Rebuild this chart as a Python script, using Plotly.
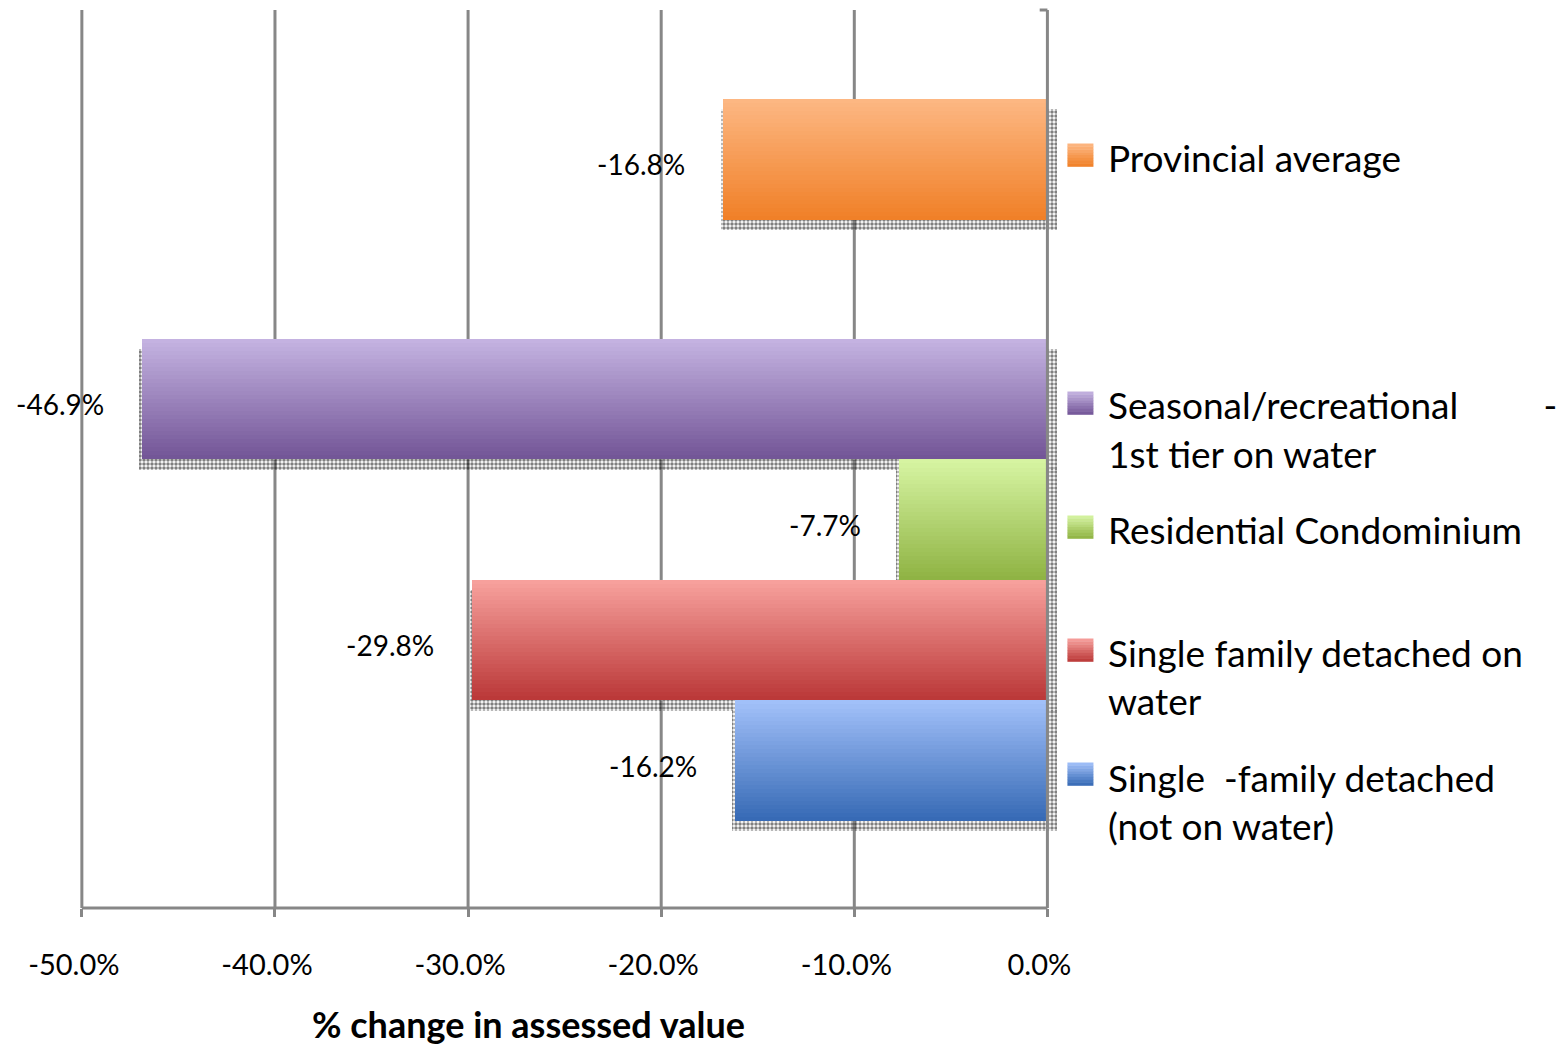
import plotly.graph_objects as go

NB = "\u00a0"

# ---------------- data ----------------
categories = [
    "Provincial average",
    "Seasonal/recreational - 1st tier on water",
    "Residential Condominium",
    "Single family detached on water",
    "Single -family detached (not on water)",
]
values = [-16.8, -46.9, -7.7, -29.8, -16.2]
value_labels = ["-16.8%", "-46.9%", "-7.7%", "-29.8%", "-16.2%"]
legend_lines = [
    ["Provincial average"],
    ["Seasonal/recreational" + NB * 9 + "-", "1st tier on water"],
    ["Residential Condominium"],
    ["Single family detached on", "water"],
    ["Single" + NB * 2 + "-family detached", "(not on water)"],
]
tick_values = [-50, -40, -30, -20, -10, 0]
tick_labels = ["-50.0%", "-40.0%", "-30.0%", "-20.0%", "-10.0%", "0.0%"]
axis_title = "% change in assessed value"

# ---------------- styles ----------------
top_colors = ["#FDB884", "#C5B4E2", "#D7F5A3", "#F8A29E", "#A3C1FA"]
bottom_colors = ["#F07F26", "#725496", "#8EB242", "#BA3737", "#3569B4"]
FONT = "Lato"
GRID = "#878787"

# ---------------- layout geometry ----------------
W, H = 1558, 1048
X_MIN, X_MAX = -50.2, 0.6
PX_PER = 19.3
M_L = 82 - 0.2 * PX_PER
PLOT_W = (X_MAX - X_MIN) * PX_PER
M_R = W - M_L - PLOT_W
M_T, PLOT_BOTTOM = 10, 908
M_B = H - PLOT_BOTTOM
PLOT_H = PLOT_BOTTOM - M_T
Y_RANGE = PLOT_H / 120.5

slot_centers = [1.24, 3.23, 4.23, 5.23, 6.23]
N_STRIPS = 30


def hex2rgb(h):
    h = h.lstrip("#")
    return tuple(int(h[i:i + 2], 16) for i in (0, 2, 4))


def mix(c1, c2, t):
    a, b = hex2rgb(c1), hex2rgb(c2)
    return "rgb(%d,%d,%d)" % tuple(round(a[i] + (b[i] - a[i]) * t) for i in range(3))


def px_x(px):
    return (px - M_L) / PLOT_W


def px_y(py):
    return (PLOT_BOTTOM - py) / PLOT_H


fig = go.Figure()

# shadows (dotted, offset down/right)
for i, v in enumerate(values):
    c = slot_centers[i]
    top = c - 0.5 + 0.08
    bot = c + 0.5 + 0.085
    fig.add_trace(go.Bar(
        orientation="h",
        y=[(top + bot) / 2], x=[0.5 - (v - 0.12)], base=[v - 0.12],
        width=[bot - top],
        marker=dict(color="rgba(0,0,0,0)", line=dict(width=0),
                    pattern=dict(shape=".", fgcolor="black", bgcolor="rgba(0,0,0,0)",
                                 size=4, solidity=0.6, fillmode="overlay")),
        showlegend=False, hoverinfo="skip",
    ))

# gradient bars built from overlapping strips
for i, v in enumerate(values):
    c = slot_centers[i]
    top, bot = c - 0.5, c + 0.5
    ys, ws, cols = [], [], []
    for k in range(N_STRIPS):
        y0 = top + k / N_STRIPS
        y1 = min(top + (k + 1.6) / N_STRIPS, bot)
        ys.append((y0 + y1) / 2)
        ws.append(y1 - y0)
        cols.append(mix(top_colors[i], bottom_colors[i], (k + 0.5) / N_STRIPS))
    fig.add_trace(go.Bar(
        orientation="h", y=ys, x=[v] * N_STRIPS, width=ws,
        marker=dict(color=cols, line=dict(width=0)),
        name=categories[i], showlegend=False,
    ))

annotations = []
# value labels
for i, v in enumerate(values):
    annotations.append(dict(
        x=v, y=slot_centers[i], xref="x", yref="y", text=value_labels[i],
        showarrow=False, xanchor="right", yanchor="middle", xshift=-36, yshift=-5,
        font=dict(family=FONT, size=28, color="black"),
    ))

shapes = []
# vertical gridlines: hidden where a bar passes in front of them
for tv in tick_values:
    if tv == 0:
        shapes.append(dict(type="line", xref="x", yref="paper", x0=0, x1=0, y0=0, y1=1,
                           layer="above", line=dict(color=GRID, width=3)))
        continue
    covered = sorted((slot_centers[i] - 0.5, slot_centers[i] + 0.5)
                     for i, v in enumerate(values) if v < tv)
    segs, cur = [], 0.0
    for a, b in covered:
        if a > cur:
            segs.append((cur, a))
        cur = max(cur, b)
    if cur < Y_RANGE:
        segs.append((cur, Y_RANGE))
    for a, b in segs:
        shapes.append(dict(type="line", xref="x", yref="y", x0=tv, x1=tv, y0=a, y1=b,
                           layer="below", line=dict(color=GRID, width=3)))

# custom legend
key_centers = [155, 403, 527, 650, 774]
text_centers = [158, 405, 529, 652, 777]
LINE_GAP = 48
for i in range(len(values)):
    y0 = key_centers[i] - 11.5
    n = 8
    for k in range(n):
        t = (k + 0.5) / n
        shapes.append(dict(
            type="rect", xref="paper", yref="paper",
            x0=px_x(1067), x1=px_x(1093),
            y0=px_y(y0 + 23 * k / n), y1=px_y(y0 + 23 * (k + 1) / n + 0.3),
            fillcolor=mix(top_colors[i], bottom_colors[i], t), line=dict(width=0),
        ))
    for j, line in enumerate(legend_lines[i]):
        annotations.append(dict(
            x=px_x(1106), y=px_y(text_centers[i] + j * LINE_GAP), xref="paper", yref="paper",
            text=line, showarrow=False, xanchor="left", yanchor="middle",
            font=dict(family=FONT, size=37, color="black"),
        ))

# axis title
annotations.append(dict(
    x=px_x(528), y=px_y(1024), xref="paper", yref="paper", text="<b>" + axis_title + "</b>",
    showarrow=False, xanchor="center", yanchor="middle",
    font=dict(family=FONT, size=36, color="black"),
))

# bottom axis line and top-right tick
shapes.append(dict(type="line", xref="x", yref="paper", x0=-50, x1=0, y0=0, y1=0,
                   line=dict(color=GRID, width=3)))
shapes.append(dict(type="line", xref="x", yref="paper", x0=-0.4, x1=0, y0=1, y1=1,
                   line=dict(color=GRID, width=3)))

fig.update_layout(
    width=W, height=H,
    margin=dict(l=M_L, r=M_R, t=M_T, b=M_B),
    paper_bgcolor="white", plot_bgcolor="white",
    barmode="overlay", bargap=0,
    showlegend=False,
    annotations=annotations, shapes=shapes,
    xaxis=dict(range=[X_MIN, X_MAX], tickvals=tick_values, ticktext=tick_labels,
               showgrid=False, zeroline=False,
               ticks="outside", ticklen=8, tickwidth=3, tickcolor=GRID,
               ticklabelstandoff=23, ticklabelshift=-8,
               tickfont=dict(family=FONT, size=29, color="black"), showline=False),
    yaxis=dict(range=[Y_RANGE, 0], showgrid=False, zeroline=False, showticklabels=False,
               showline=False, ticks=""),
    font=dict(family=FONT),
)

fig.write_html("out.html")
